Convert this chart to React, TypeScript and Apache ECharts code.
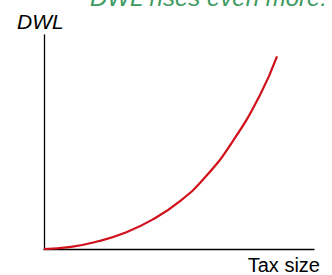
import React, { useEffect, useRef } from "react";
import * as echarts from "echarts";

const taxSize = [0, 1, 2, 3, 4, 5, 6, 7, 8, 8.63];
const dwl = [0, 0.1, 0.36, 0.76, 1.36, 2.2, 3.4, 5.05, 7.2, 9.0];
const titleText = "DWL rises even more.";
const yLabel = "DWL";
const xLabel = "Tax size";

export default function App() {
  const ref = useRef<HTMLDivElement>(null);
  useEffect(() => {
    if (!ref.current) return;
    const chart = echarts.init(ref.current, null, { renderer: "svg" });
    const font = "'Liberation Sans', Arial, sans-serif";
    chart.setOption({
      animation: false,
      grid: { left: 44, right: 18, top: 35, bottom: 26 },
      xAxis: {
        type: "value",
        min: 0,
        max: 10,
        axisLine: { show: true, lineStyle: { color: "#000", width: 1.3 } },
        axisTick: { show: false },
        axisLabel: { show: false },
        splitLine: { show: false },
      },
      yAxis: {
        type: "value",
        min: 0,
        max: 10,
        axisLine: { show: true, lineStyle: { color: "#000", width: 1.3 } },
        axisTick: { show: false },
        axisLabel: { show: false },
        splitLine: { show: false },
      },
      series: [
        {
          type: "line",
          data: taxSize.map((x, i) => [x, dwl[i]]),
          smooth: 0.5,
          showSymbol: false,
          symbol: "none",
          lineStyle: { color: "#d0101a", width: 2.2 },
          z: 3,
        },
      ],
      graphic: [
        {
          type: "text",
          x: 327,
          y: -2.5,
          style: {
            text: titleText,
            fill: "#3c9a5f",
            font: `italic 24px ${font}`,
            align: "right",
            verticalAlign: "middle",
          },
        },
        {
          type: "text",
          x: 17,
          y: 21,
          style: {
            text: yLabel,
            fill: "#000",
            font: `italic 21px ${font}`,
            align: "left",
            verticalAlign: "middle",
          },
        },
        {
          type: "text",
          x: 320,
          y: 265,
          style: {
            text: xLabel,
            fill: "#000",
            font: `20px ${font}`,
            align: "right",
            verticalAlign: "middle",
          },
        },
      ],
    });
    return () => chart.dispose();
  }, []);
  return <div ref={ref} style={{ width: 332, height: 275, position: "absolute", left: 0, top: 0 }} />;
}
